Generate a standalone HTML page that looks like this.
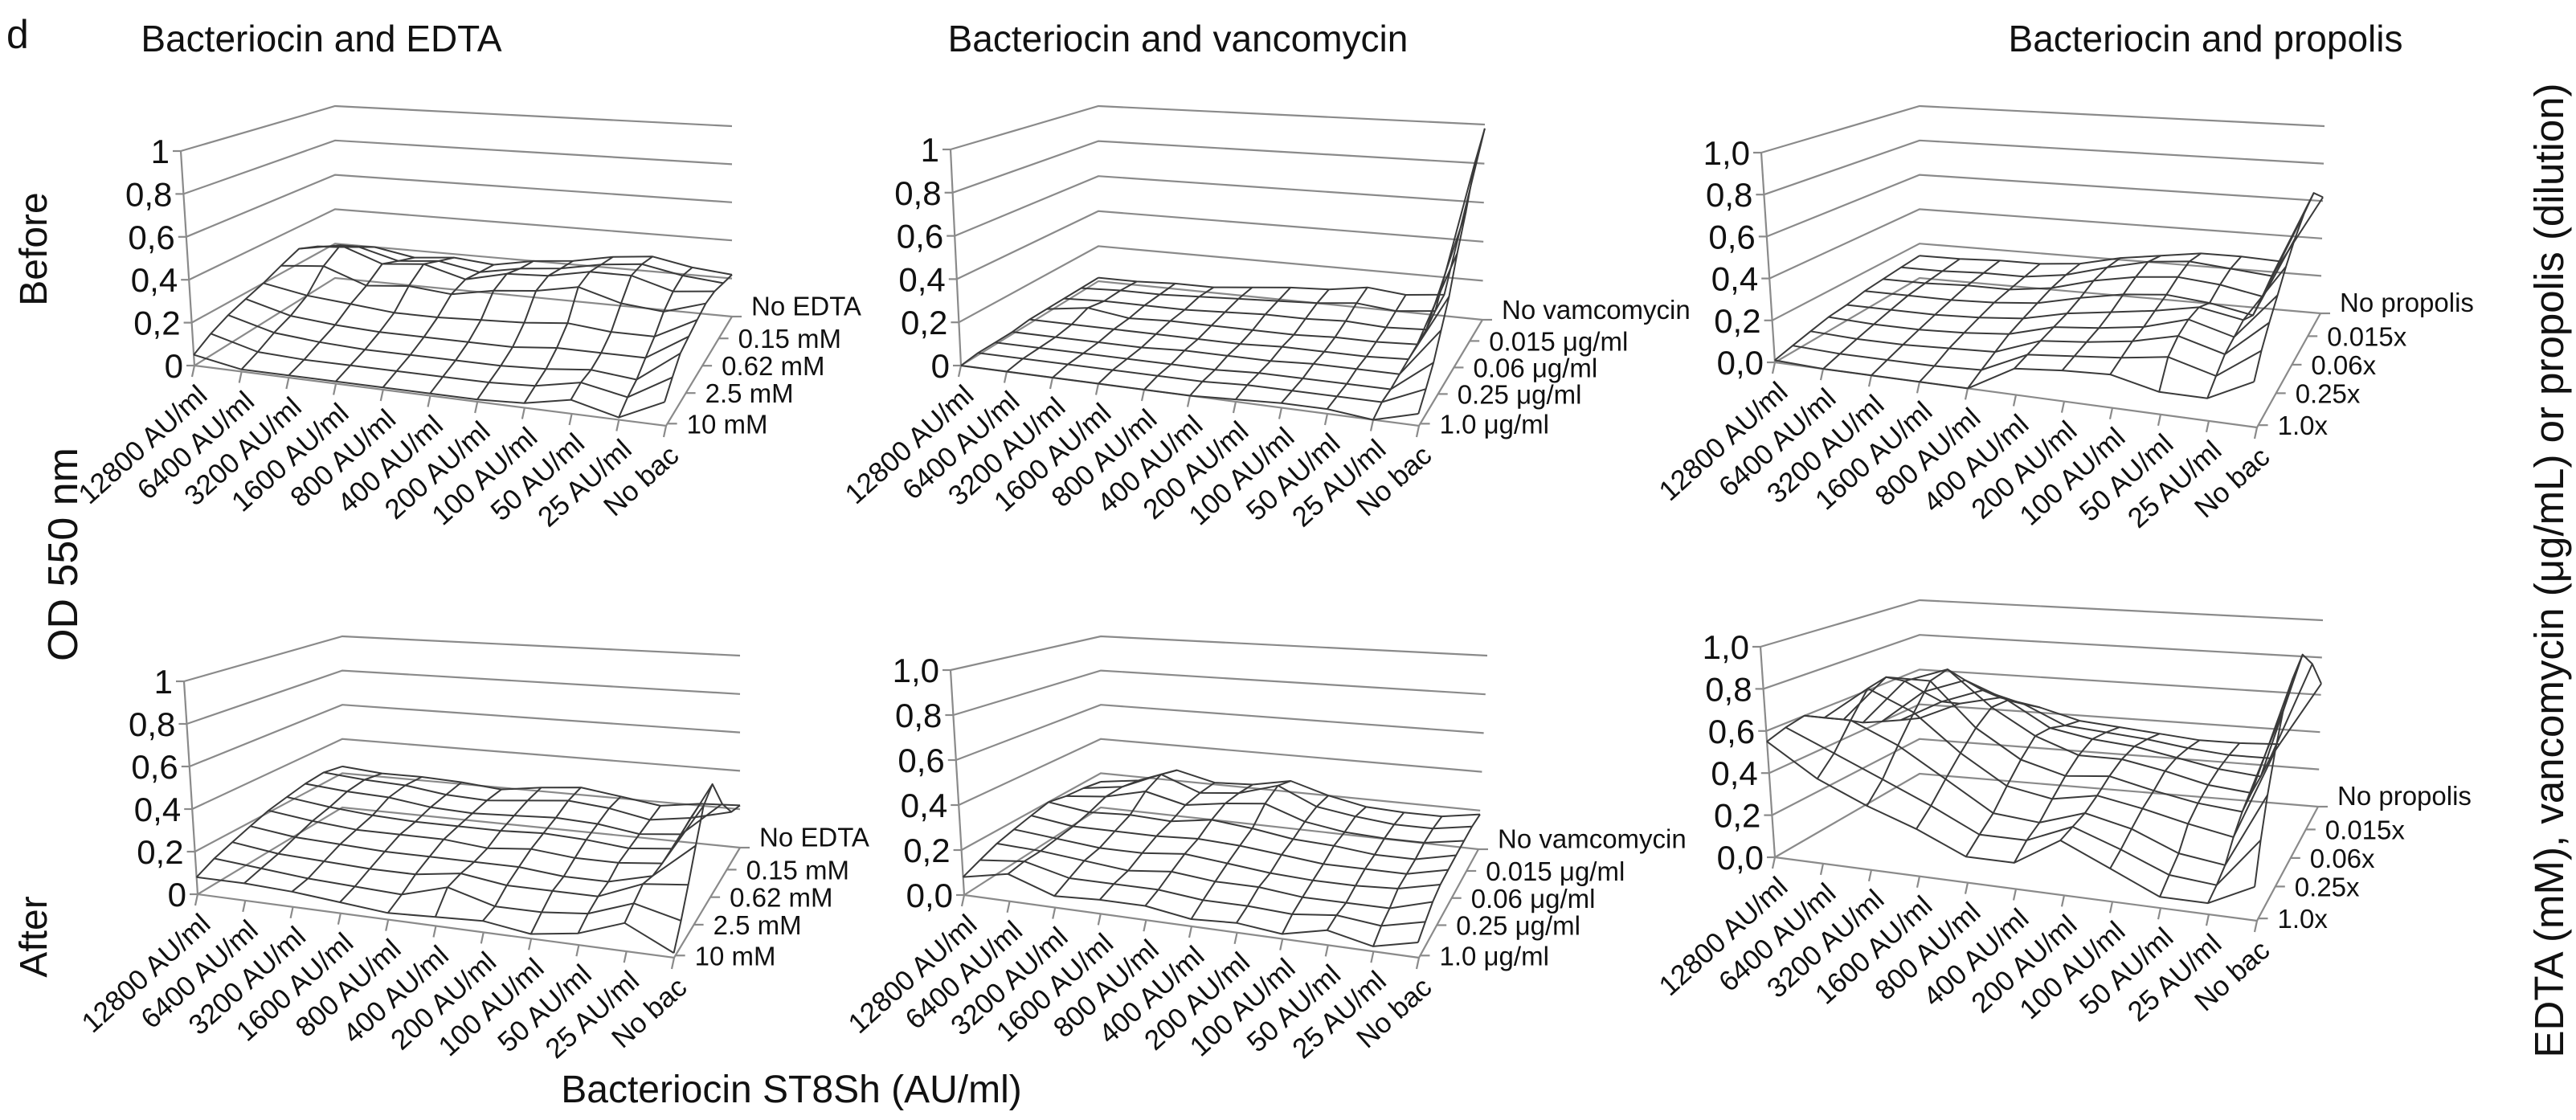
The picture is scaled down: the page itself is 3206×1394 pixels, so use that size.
<!DOCTYPE html>
<html><head><meta charset="utf-8">
<style>
html,body{margin:0;padding:0;background:#fff;}
svg{display:block;font-family:"Liberation Sans",Arial,sans-serif;}
</style></head>
<body>
<svg id="chart" width="3206" height="1394" viewBox="0 0 3206 1394" xmlns="http://www.w3.org/2000/svg">
<rect width="3206" height="1394" fill="#fff"/>
<text x="8" y="60" font-size="50" fill="#111">d</text>
<text x="400" y="64" font-size="46" text-anchor="middle" fill="#111">Bacteriocin and EDTA</text>
<text x="1466" y="64" font-size="46" text-anchor="middle" fill="#111">Bacteriocin and vancomycin</text>
<text x="2745" y="64" font-size="46" text-anchor="middle" fill="#111">Bacteriocin and propolis</text>
<text transform="translate(58,310) rotate(-90)" font-size="48" text-anchor="middle" fill="#111">Before</text>
<text transform="translate(58,1166) rotate(-90)" font-size="48" text-anchor="middle" fill="#111">After</text>
<text transform="translate(96,690) rotate(-90)" font-size="52" text-anchor="middle" fill="#111">OD 550 nm</text>
<text x="985" y="1372" font-size="48" text-anchor="middle" fill="#111">Bacteriocin ST8Sh (AU/ml)</text>
<text transform="translate(3190,710) rotate(-90)" font-size="51" text-anchor="middle" fill="#111">EDTA (mM), vancomycin (μg/mL) or propolis (dilution)</text>
<g id="panels"></g>
</svg>
<script>
const categories = ["12800 AU/ml","6400 AU/ml","3200 AU/ml","1600 AU/ml","800 AU/ml","400 AU/ml","200 AU/ml","100 AU/ml","50 AU/ml","25 AU/ml","No bac"];
const depthEdta = ["No EDTA","0.15 mM","0.62 mM","2.5 mM","10 mM"];
const depthVanc = ["No vamcomycin","0.015 μg/ml","0.06 μg/ml","0.25 μg/ml","1.0 μg/ml"];
const depthProp = ["No propolis","0.015x","0.06x","0.25x","1.0x"];
const zTicks = [0,0.2,0.4,0.6,0.8,1];
const zLabelsA = ["0","0,2","0,4","0,6","0,8","1"];
const zLabelsB = ["0,0","0,2","0,4","0,6","0,8","1,0"];

const surfEdtaBefore = [
[0.05,0.01,0.01,0.01,0.01,0.01,0.01,0.02,0.06,0.01,0.10],
[0.10,0.04,0.03,0.03,0.03,0.03,0.03,0.04,0.08,0.04,0.15],
[0.14,0.08,0.06,0.05,0.05,0.05,0.05,0.06,0.08,0.06,0.20],
[0.17,0.11,0.09,0.08,0.08,0.08,0.08,0.10,0.10,0.10,0.22],
[0.20,0.16,0.14,0.12,0.12,0.13,0.14,0.16,0.14,0.14,0.24],
[0.24,0.26,0.18,0.20,0.18,0.22,0.24,0.28,0.22,0.20,0.26],
[0.28,0.32,0.24,0.26,0.20,0.25,0.26,0.30,0.30,0.24,0.26],
[0.24,0.26,0.20,0.22,0.18,0.22,0.24,0.28,0.30,0.26,0.24],
[0.18,0.20,0.16,0.18,0.16,0.20,0.22,0.26,0.28,0.24,0.22]];
const surfVancBefore = [
[0.00,0.00,0.00,0.00,0.00,0.00,0.01,0.02,0.02,0.00,0.05],
[0.01,0.01,0.01,0.01,0.01,0.01,0.02,0.02,0.02,0.02,0.10],
[0.01,0.01,0.01,0.01,0.01,0.01,0.02,0.02,0.02,0.02,0.16],
[0.01,0.01,0.01,0.01,0.02,0.02,0.02,0.03,0.03,0.03,0.25],
[0.02,0.02,0.02,0.02,0.02,0.02,0.03,0.03,0.03,0.04,0.35],
[0.02,0.05,0.02,0.03,0.03,0.03,0.03,0.04,0.04,0.05,0.50],
[0.02,0.03,0.03,0.03,0.04,0.05,0.05,0.06,0.05,0.06,0.65],
[0.02,0.03,0.03,0.04,0.05,0.06,0.07,0.09,0.07,0.09,0.85],
[0.02,0.02,0.03,0.03,0.05,0.07,0.08,0.11,0.09,0.11,0.98]];
const surfPropBefore = [
[0.01,0.00,0.00,0.00,0.00,0.12,0.14,0.15,0.10,0.10,0.20],
[0.03,0.02,0.02,0.02,0.03,0.13,0.15,0.17,0.20,0.14,0.28],
[0.05,0.04,0.04,0.05,0.06,0.14,0.16,0.19,0.24,0.18,0.35],
[0.07,0.06,0.06,0.07,0.09,0.15,0.17,0.20,0.26,0.20,0.42],
[0.08,0.08,0.08,0.09,0.11,0.16,0.19,0.22,0.26,0.22,0.50],
[0.10,0.10,0.10,0.11,0.13,0.18,0.22,0.24,0.22,0.18,0.58],
[0.11,0.11,0.12,0.12,0.15,0.21,0.25,0.27,0.25,0.21,0.65],
[0.12,0.12,0.13,0.13,0.16,0.22,0.27,0.29,0.27,0.25,0.70],
[0.13,0.13,0.14,0.14,0.16,0.21,0.24,0.27,0.27,0.26,0.62]];
const surfEdtaAfter = [
[0.08,0.08,0.07,0.05,0.03,0.04,0.05,0.02,0.05,0.12,0.02],
[0.12,0.10,0.08,0.07,0.06,0.12,0.06,0.06,0.08,0.15,0.10],
[0.15,0.12,0.11,0.10,0.10,0.13,0.10,0.10,0.10,0.18,0.20],
[0.18,0.15,0.14,0.13,0.13,0.13,0.13,0.11,0.11,0.16,0.32],
[0.21,0.18,0.16,0.16,0.16,0.14,0.16,0.14,0.14,0.16,0.45],
[0.23,0.20,0.18,0.17,0.17,0.17,0.18,0.17,0.15,0.17,0.50],
[0.25,0.23,0.22,0.19,0.18,0.19,0.20,0.19,0.16,0.18,0.35],
[0.26,0.24,0.23,0.20,0.19,0.21,0.23,0.21,0.17,0.20,0.25],
[0.24,0.22,0.22,0.21,0.19,0.22,0.24,0.21,0.18,0.21,0.22]];
const surfVancAfter = [
[0.08,0.12,0.05,0.06,0.06,0.03,0.04,0.02,0.06,0.02,0.06],
[0.11,0.13,0.08,0.08,0.08,0.06,0.06,0.05,0.07,0.05,0.09],
[0.14,0.13,0.11,0.09,0.11,0.09,0.09,0.07,0.07,0.07,0.12],
[0.16,0.14,0.12,0.12,0.14,0.12,0.10,0.09,0.09,0.10,0.14],
[0.18,0.15,0.15,0.15,0.16,0.15,0.13,0.11,0.11,0.11,0.15],
[0.20,0.17,0.18,0.17,0.20,0.18,0.15,0.14,0.12,0.12,0.16],
[0.18,0.20,0.25,0.20,0.23,0.25,0.18,0.15,0.14,0.14,0.17],
[0.17,0.20,0.29,0.21,0.23,0.29,0.20,0.17,0.15,0.15,0.18],
[0.15,0.18,0.26,0.21,0.22,0.26,0.20,0.16,0.15,0.15,0.18]];
const surfPropAfter = [
[0.55,0.40,0.30,0.22,0.12,0.12,0.25,0.15,0.05,0.05,0.15],
[0.58,0.48,0.38,0.28,0.17,0.17,0.26,0.18,0.09,0.07,0.30],
[0.60,0.60,0.50,0.36,0.22,0.20,0.27,0.22,0.13,0.10,0.45],
[0.55,0.72,0.62,0.44,0.30,0.26,0.30,0.26,0.21,0.17,0.60],
[0.50,0.74,0.74,0.52,0.38,0.32,0.34,0.29,0.25,0.23,0.75],
[0.44,0.68,0.76,0.58,0.45,0.37,0.37,0.33,0.28,0.26,0.85],
[0.40,0.58,0.66,0.57,0.44,0.40,0.38,0.34,0.30,0.28,0.92],
[0.36,0.48,0.56,0.50,0.40,0.38,0.36,0.33,0.31,0.31,0.82],
[0.32,0.42,0.47,0.43,0.37,0.35,0.33,0.31,0.31,0.32,0.66]];

const NS = "http://www.w3.org/2000/svg";
const root = document.getElementById('panels');

function mk(tag, attrs, parent){
  const e = document.createElementNS(NS, tag);
  for (const k in attrs) e.setAttribute(k, attrs[k]);
  parent.appendChild(e);
  return e;
}

const panelDefs = [
 {name:"edta-before", surf:surfEdtaBefore, depth:depthEdta, zl:zLabelsA, FL:[242,455],FLt:[225,188],BL:[417,346],BLt:[417,132],BR:[911,394],BRt:[911,157],FR:[829,530]},
 {name:"vancomycin-before", surf:surfVancBefore, depth:depthVanc, zl:zLabelsA, FL:[1196,455],FLt:[1183,186],BL:[1367,350],BLt:[1367,132],BR:[1845,398],BRt:[1848,155],FR:[1766,530]},
 {name:"propolis-before", surf:surfPropBefore, depth:depthProp, zl:zLabelsB, FL:[2209,451],FLt:[2192,190],BL:[2389,346],BLt:[2389,132],BR:[2888,390],BRt:[2893,157],FR:[2809,532]},
 {name:"edta-after", surf:surfEdtaAfter, depth:depthEdta, zl:zLabelsA, FL:[246,1113],FLt:[229,848],BL:[426,1005],BLt:[426,792],BR:[921,1055],BRt:[921,816],FR:[839,1192]},
 {name:"vancomycin-after", surf:surfVancAfter, depth:depthVanc, zl:zLabelsB, FL:[1200,1114],FLt:[1183,834],BL:[1370,1005],BLt:[1370,792],BR:[1840,1057],BRt:[1851,816],FR:[1766,1192]},
 {name:"propolis-after", surf:surfPropAfter, depth:depthProp, zl:zLabelsB, FL:[2209,1067],FLt:[2191,805],BL:[2389,963],BLt:[2389,747],BR:[2885,1004],BRt:[2891,772],FR:[2809,1146]}
];

function lerp(a,b,t){return [a[0]+(b[0]-a[0])*t, a[1]+(b[1]-a[1])*t];}

function makeProj(p){
  const hFL=[p.FLt[0]-p.FL[0], p.FLt[1]-p.FL[1]];
  const hBL=[p.BLt[0]-p.BL[0], p.BLt[1]-p.BL[1]];
  const hBR=[p.BRt[0]-p.BR[0], p.BRt[1]-p.BR[1]];
  const r = Math.hypot(hBR[0],hBR[1])/Math.hypot(hBL[0],hBL[1]);
  const hFR=[hFL[0]*r, hFL[1]*r];
  return function(u,v,w){
    const f = lerp(lerp(p.FL,p.FR,u), lerp(p.BL,p.BR,u), v);
    const h = lerp(lerp(hFL,hFR,u), lerp(hBL,hBR,u), v);
    return [f[0]+h[0]*w, f[1]+h[1]*w];
  };
}

function pts(arr){return arr.map(q=>q[0].toFixed(1)+","+q[1].toFixed(1)).join(" ");}

panelDefs.forEach(p=>{
  const P = makeProj(p);
  const g = mk('g',{},root);
  
  
  const grid = mk('g',{stroke:"#8a8a8a","stroke-width":"2.2",fill:"none"},g);
  
  
  zTicks.forEach((z,i)=>{
    const a=P(0,0,z), b=P(0,1,z), c=P(1,1,z);
    const gl = mk('polyline',{points:pts([a,b,c])},grid);
    
    
    mk('line',{x1:a[0]-10,y1:a[1],x2:a[0],y2:a[1]},grid);
    const t = mk('text',{x:(a[0]-14).toFixed(1), y:(a[1]+15).toFixed(1), "font-size":"42","text-anchor":"end",fill:"#111",stroke:"none"},g);
    t.textContent = p.zl[i];
    
    
  });
  const za = mk('line',{x1:P(0,0,0)[0],y1:P(0,0,0)[1],x2:P(0,0,1)[0],y2:P(0,0,1)[1]},grid);
  
  
  const xa = mk('polyline',{points:pts([P(0,0,0),P(1,0,0),P(1,1,0)])},grid);
  
  
  categories.forEach((c,j)=>{
    const u=j/10, a=P(u,0,0);
    mk('line',{x1:a[0],y1:a[1],x2:a[0]-3,y2:a[1]+14},grid);
    const t = mk('text',{transform:"translate("+(a[0]+18).toFixed(1)+","+(a[1]+40).toFixed(1)+") rotate(-42)","font-size":"35","text-anchor":"end",fill:"#111",stroke:"none"},g);
    t.textContent = c;
    
    
  });
  const dpos=[1.1,0.8,0.55,0.3,0.02];
  p.depth.forEach((d,k)=>{
    const v=dpos[k], a=P(1,Math.min(v,1),0);
    const yy = a[1] + (v>1 ? (P(1,1,0)[1]-P(1,0.9,0)[1])*1.0 : 0);
    mk('line',{x1:a[0],y1:a[1],x2:a[0]+12,y2:a[1]},grid);
    const t = mk('text',{x:(a[0]+24).toFixed(1), y:(yy+12).toFixed(1),"font-size":"33",fill:"#111",stroke:"none"},g);
    t.textContent = d;
    
    
  });
  const mesh = mk('g',{stroke:"#3a3a3a","stroke-width":"2","fill":"none","stroke-linejoin":"round"},g);
  
  
  const S = p.surf, nr=S.length, nc=S[0].length;
  for(let r=0;r<nr;r++){
    const row=[];
    for(let j=0;j<nc;j++) row.push(P(j/(nc-1), r/(nr-1), S[r][j]));
    const l = mk('polyline',{points:pts(row)},mesh);
    
    
  }
  for(let j=0;j<nc;j++){
    const col=[];
    for(let r=0;r<nr;r++) col.push(P(j/(nc-1), r/(nr-1), S[r][j]));
    const l = mk('polyline',{points:pts(col)},mesh);
    
    
  }
});
</script>
</body></html>
